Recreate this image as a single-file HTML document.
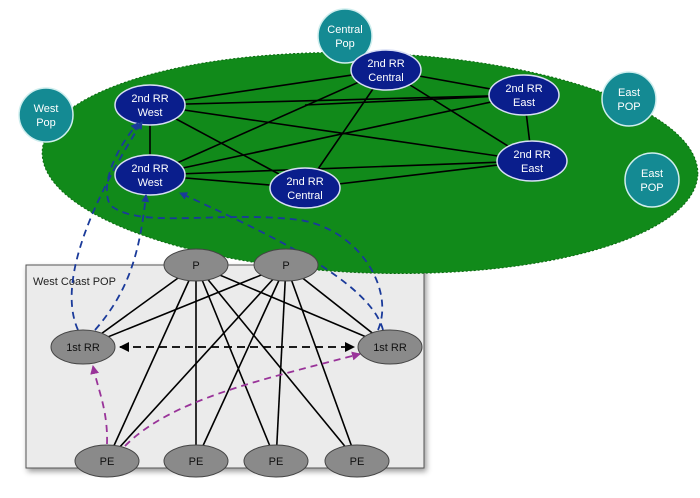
<!DOCTYPE html>
<html><head><style>body{margin:0;background:#fff}svg{display:block}text{font-family:"Liberation Sans",sans-serif;text-anchor:middle}</style></head><body>
<svg width="700" height="498" viewBox="0 0 700 498">
<defs>
<marker id="ab" markerWidth="8" markerHeight="8" refX="7" refY="4" orient="auto" markerUnits="userSpaceOnUse"><path d="M0,0L8,4L0,8z" fill="#1a3a9a"/></marker>
<marker id="ak" markerWidth="10" markerHeight="10" refX="9" refY="5" orient="auto-start-reverse" markerUnits="userSpaceOnUse"><path d="M0,0L10,5L0,10z" fill="#000"/></marker>
<marker id="ap" markerWidth="9" markerHeight="9" refX="8" refY="4.5" orient="auto" markerUnits="userSpaceOnUse"><path d="M0,0L9,4.5L0,9z" fill="#993399"/></marker>
</defs>
<rect x="26" y="265" width="398" height="203" fill="#ebebeb" stroke="#555" style="filter:drop-shadow(2px 3px 3px rgba(0,0,0,.4))"/>
<ellipse cx="370" cy="163" rx="328" ry="110" transform="rotate(2 370 163)" fill="#118a1a" stroke="#0a6a10" stroke-dasharray="2 2"/>
<text x="33" y="285" font-size="11" fill="#222" style="text-anchor:start">West Coast POP</text>
<g fill="#148a93" stroke="#cfeeee" stroke-width="1.5">
<circle cx="345" cy="36" r="27"/><circle cx="46" cy="115" r="27"/><circle cx="629" cy="99" r="27"/><circle cx="652" cy="180" r="27"/></g>
<g fill="#fff" font-size="11"><text x="345" y="33">Central</text><text x="345" y="47">Pop</text><text x="46" y="112">West</text><text x="46" y="126">Pop</text><text x="629" y="96">East</text><text x="629" y="110">POP</text><text x="652" y="177">East</text><text x="652" y="191">POP</text></g>
<g stroke="#000" stroke-width="1.6">
<line x1="150" y1="105" x2="386" y2="70"/><line x1="150" y1="105" x2="524" y2="95"/><line x1="150" y1="105" x2="532" y2="161"/><line x1="150" y1="105" x2="150" y2="175"/><line x1="150" y1="105" x2="305" y2="188"/>
<line x1="150" y1="175" x2="386" y2="70"/><line x1="150" y1="175" x2="524" y2="95"/><line x1="150" y1="175" x2="532" y2="161"/><line x1="150" y1="175" x2="305" y2="188"/>
<line x1="386" y1="70" x2="524" y2="95"/><line x1="386" y1="70" x2="532" y2="161"/><line x1="386" y1="70" x2="305" y2="188"/><line x1="524" y1="95" x2="532" y2="161"/><line x1="305" y1="188" x2="532" y2="161"/><line x1="305" y1="105" x2="524" y2="95"/></g>
<g fill="#0a1e8c" stroke="#d8def5" stroke-width="1.5">
<ellipse cx="150" cy="105" rx="35" ry="20"/><ellipse cx="150" cy="175" rx="35" ry="20"/><ellipse cx="386" cy="70" rx="35" ry="20"/><ellipse cx="524" cy="95" rx="35" ry="20"/><ellipse cx="532" cy="161" rx="35" ry="20"/><ellipse cx="305" cy="188" rx="35" ry="20"/></g>
<g fill="#fff" font-size="11"><text x="150" y="102">2nd RR</text><text x="150" y="116">West</text><text x="150" y="172">2nd RR</text><text x="150" y="186">West</text><text x="386" y="67">2nd RR</text><text x="386" y="81">Central</text><text x="524" y="92">2nd RR</text><text x="524" y="106">East</text><text x="532" y="158">2nd RR</text><text x="532" y="172">East</text><text x="305" y="185">2nd RR</text><text x="305" y="199">Central</text></g>
<g stroke="#000" stroke-width="1.6">
<line x1="196" y1="265" x2="83" y2="347"/><line x1="196" y1="265" x2="390" y2="347"/><line x1="196" y1="265" x2="107" y2="461"/><line x1="196" y1="265" x2="196" y2="461"/><line x1="196" y1="265" x2="276" y2="461"/><line x1="196" y1="265" x2="357" y2="461"/>
<line x1="286" y1="265" x2="83" y2="347"/><line x1="286" y1="265" x2="390" y2="347"/><line x1="286" y1="265" x2="107" y2="461"/><line x1="286" y1="265" x2="196" y2="461"/><line x1="286" y1="265" x2="276" y2="461"/><line x1="286" y1="265" x2="357" y2="461"/></g>
<g fill="none" stroke="#1a3a9a" stroke-width="1.8" stroke-dasharray="7 5">
<path d="M78 330 C60 290 80 220 142 122" marker-end="url(#ab)"/>
<path d="M95 330 C130 290 140 250 146 195" marker-end="url(#ab)"/>
<path d="M383 330 C370 280 260 230 180 193" marker-end="url(#ab)"/>
<path d="M378 330 C395 290 360 230 300 220 C220 210 140 230 110 205 C100 185 115 150 138 123" marker-end="url(#ab)"/>
</g>
<line x1="120" y1="347" x2="354" y2="347" stroke="#000" stroke-width="1.8" stroke-dasharray="8 5" marker-start="url(#ak)" marker-end="url(#ak)"/>
<g fill="none" stroke="#993399" stroke-width="1.8" stroke-dasharray="7 5">
<path d="M107 444 C108 410 98 390 93 366" marker-end="url(#ap)"/>
<path d="M125 446 C170 400 260 380 360 354" marker-end="url(#ap)"/>
</g>
<g fill="#8a8a8a" stroke="#444" stroke-width="1">
<ellipse cx="196" cy="265" rx="32" ry="16"/><ellipse cx="286" cy="265" rx="32" ry="16"/><ellipse cx="83" cy="347" rx="32" ry="17"/><ellipse cx="390" cy="347" rx="32" ry="17"/>
<ellipse cx="107" cy="461" rx="32" ry="16"/><ellipse cx="196" cy="461" rx="32" ry="16"/><ellipse cx="276" cy="461" rx="32" ry="16"/><ellipse cx="357" cy="461" rx="32" ry="16"/></g>
<g fill="#111" font-size="11"><text x="196" y="269">P</text><text x="286" y="269">P</text><text x="83" y="351">1st RR</text><text x="390" y="351">1st RR</text><text x="107" y="465">PE</text><text x="196" y="465">PE</text><text x="276" y="465">PE</text><text x="357" y="465">PE</text></g>
</svg>
</body></html>
